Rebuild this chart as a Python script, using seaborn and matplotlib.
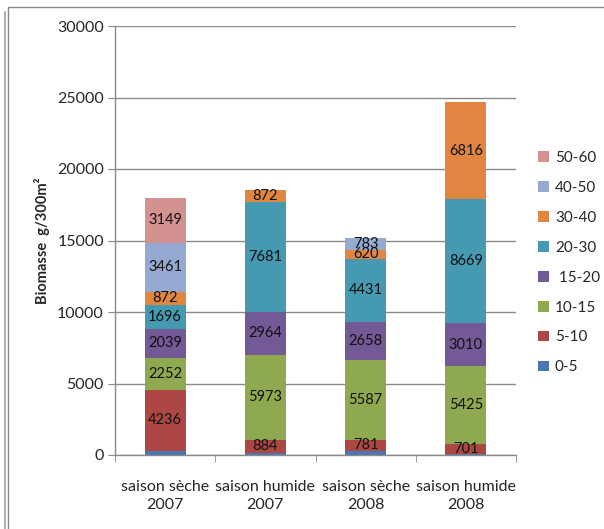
import numpy as np
import pandas as pd
import matplotlib
matplotlib.use("Agg")
import matplotlib.pyplot as plt
from matplotlib.lines import Line2D
from matplotlib.patches import Patch
import seaborn as sns

sns.set_style("white")
plt.rcParams["font.family"] = ["Lato", "DejaVu Sans"]

categories = ["saison sèche\n2007", "saison humide\n2007",
              "saison sèche\n2008", "saison humide\n2008"]
classes = ["0-5", "5-10", "10-15", " 15-20", "20-30", "30-40", "40-50", "50-60"]
v_0_5 = [300, 170, 280, 70]
v_5_10 = [4236, 884, 781, 701]
v_10_15 = [2252, 5973, 5587, 5425]
v_15_20 = [2039, 2964, 2658, 3010]
v_20_30 = [1696, 7681, 4431, 8669]
v_30_40 = [872, 872, 620, 6816]
v_40_50 = [3461, 0, 783, 0]
v_50_60 = [3149, 0, 0, 0]
colors = ["#4A76B2", "#AC4744", "#8EA94F", "#735995",
          "#4599B1", "#E08641", "#95AAD3", "#D39190"]

series = [v_0_5, v_5_10, v_10_15, v_15_20, v_20_30, v_30_40, v_40_50, v_50_60]
values = np.array(series, dtype=float)
tops = values.cumsum(axis=0)
bottoms = tops - values

fig = plt.figure(figsize=(6.04, 5.29), dpi=100)
ax = fig.add_axes([115 / 604, 1 - 455 / 529, (516 - 115) / 604, (455 - 26) / 529])

# stacked bars: draw cumulative totals from the top layer down
for i in range(len(classes) - 1, -1, -1):
    df = pd.DataFrame({"cat": categories, "top": tops[i]})
    sns.barplot(data=df, x="cat", y="top", color=colors[i], saturation=1,
                width=0.41, ax=ax, zorder=2, linewidth=0)

# segment value labels (smallest class left unlabeled)
for i in range(1, len(classes)):
    for j in range(len(categories)):
        if values[i, j] > 0:
            ax.text(j, bottoms[i, j] + values[i, j] / 2, f"{int(values[i, j])}",
                    ha="center", va="center", fontsize=10.5, color="#111111",
                    zorder=3)

ax.set_ylim(0, 30000)
ax.set_xlim(-0.5, 3.5)
ax.set_yticks(np.arange(0, 30001, 5000))
ax.yaxis.grid(True, color="#8a8a8a", linewidth=1)
ax.set_axisbelow(True)
ax.set_xlabel("")
ax.set_ylabel("Biomasse  g/300m²", fontsize=10.5, fontweight="bold", labelpad=5)
ax.tick_params(axis="y", direction="out", length=5, color="#8a8a8a",
               labelsize=11.5, pad=3, left=True)
ax.tick_params(axis="x", which="major", length=0, labelsize=11.5, pad=18)
ax.set_xticks(np.arange(-0.5, 4, 1), minor=True)
ax.tick_params(axis="x", which="minor", direction="out", length=5,
               color="#8a8a8a", bottom=True)
for s in ["top", "right"]:
    ax.spines[s].set_visible(False)
for s in ["left", "bottom"]:
    ax.spines[s].set_color("#8a8a8a")
    ax.spines[s].set_linewidth(1)
for lbl in ax.get_xticklabels():
    lbl.set_linespacing(1.35)

handles = [Patch(facecolor=colors[i], edgecolor="none", label=classes[i])
           for i in range(len(classes) - 1, -1, -1)]
fig.legend(handles=handles, loc="upper left", bbox_to_anchor=(532 / 604, 1 - 145 / 529),
           frameon=False, fontsize=11, handlelength=0.7, handleheight=0.7,
           handletextpad=0.4, labelspacing=1.04, borderaxespad=0)

# chart frame
fig.add_artist(Line2D([5 / 604, 5 / 604], [0, 1 - 12 / 529], color="#b0b0b0", lw=1.5))
fig.add_artist(Line2D([8 / 604, 8 / 604], [0, 1 - 7 / 529], color="#8a8a8a", lw=1))
fig.add_artist(Line2D([8 / 604, 1], [1 - 7 / 529, 1 - 7 / 529], color="#8a8a8a", lw=1))

fig.savefig("out.png", dpi=100)
